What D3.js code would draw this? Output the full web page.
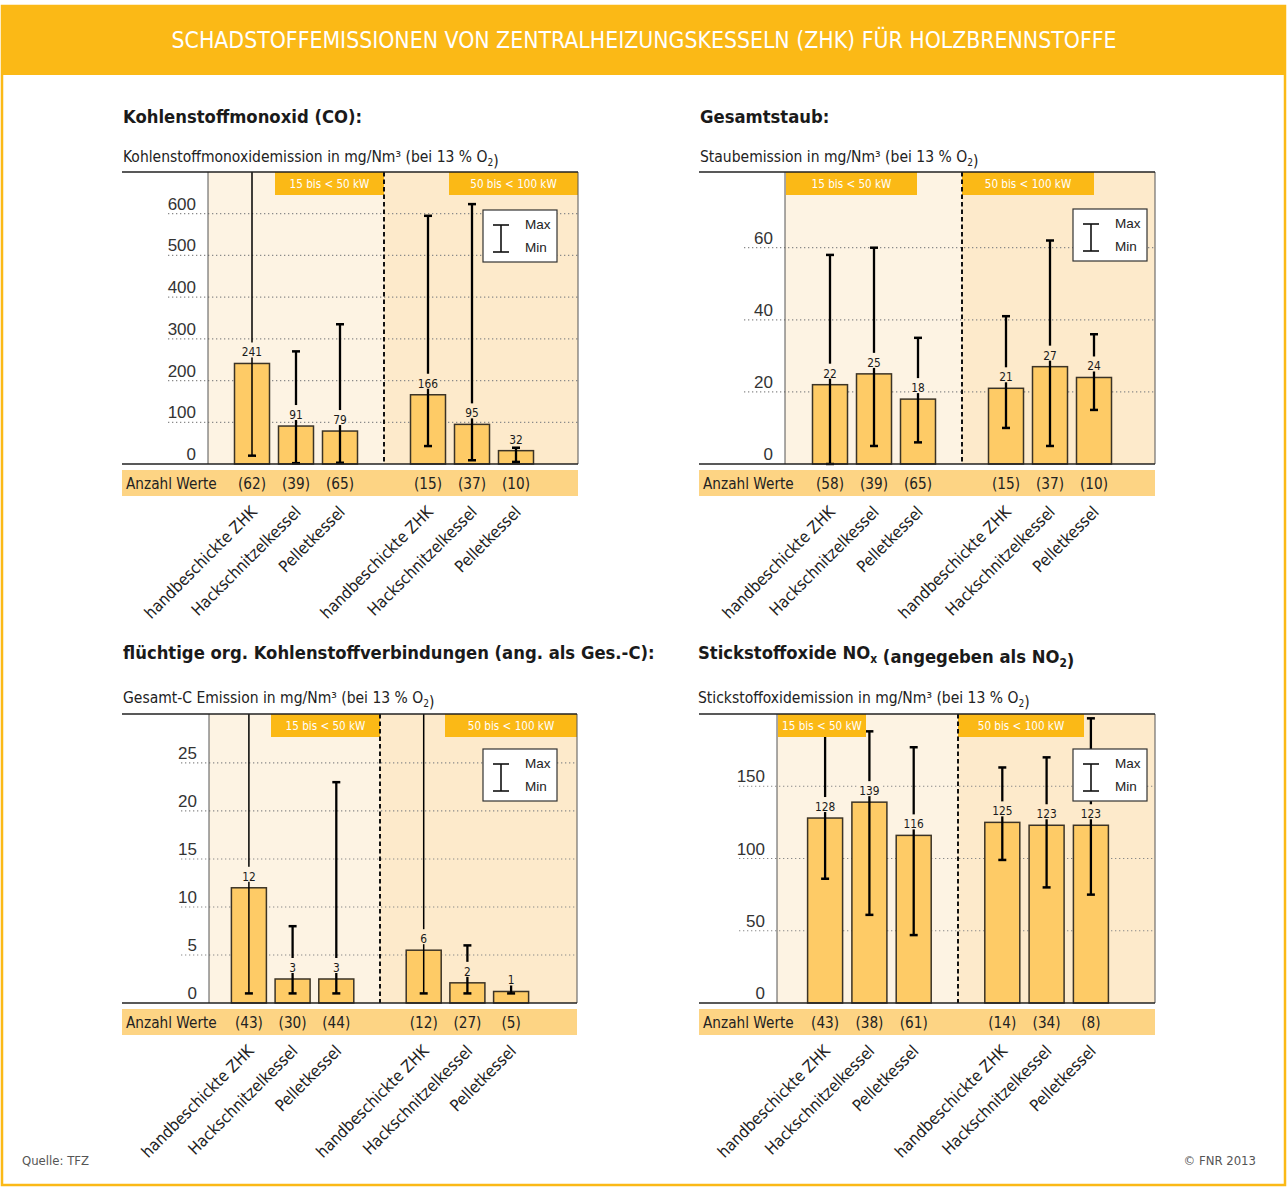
<!DOCTYPE html>
<html><head><meta charset="utf-8">
<script src="https://cdn.jsdelivr.net/npm/d3@7"></script>
<style>
body{margin:0;background:#fff}
svg{display:block}
</style></head><body><svg id="c" width="1287" height="1187"></svg>
<script>
// ---------- data ----------
const categories = ["handbeschickte ZHK","Hackschnitzelkessel","Pelletkessel"];
const powerClasses = ["15 bis < 50 kW","50 bis < 100 kW"];

const coMean  = [241, 91, 79, 166, 95, 32];
const coMin   = [20, 2, 3, 43, 9, 5];
const coMax   = [1000, 270, 335, 595, 623, 39];
const coCount = [62, 39, 65, 15, 37, 10];
const coTicks = [0, 100, 200, 300, 400, 500, 600];

const dustMean  = [22, 25, 18, 21, 27, 24];
const dustMin   = [0, 5, 6, 10, 5, 15];
const dustMax   = [58, 60, 35, 41, 62, 36];
const dustCount = [58, 39, 65, 15, 37, 10];
const dustTicks = [0, 20, 40, 60];

const cMean  = [12, 2.5, 2.5, 5.5, 2.1, 1.2];
const cMin   = [1, 1, 1, 1, 1, 1];
const cMax   = [40, 8, 23, 40, 6, 2];
const cCount = [43, 30, 44, 12, 27, 5];
const cTicks = [0, 5, 10, 15, 20, 25];

const noxMean  = [128, 139, 116, 125, 123, 123];
const noxMin   = [86, 61, 47, 99, 80, 75];
const noxMax   = [195, 188, 177, 163, 170, 197];
const noxCount = [43, 38, 61, 14, 34, 8];
const noxTicks = [0, 50, 100, 150];

// ---------- style ----------
const ORANGE="#FBB916", BAND="#FDD484", BAR="#FECB66", BARSTROKE="#3b3326",
      BG_L="#FDF3E3", BG_R="#FDEACB", INK="#1a1a1a";
const NARROW='"DejaVu Sans Condensed","DejaVu Sans",sans-serif';
const SANS='"Liberation Sans",Arial,sans-serif';

const svg=d3.select("#c");
svg.append("rect").attr("x",2).attr("y",6).attr("width",1283).attr("height",1179)
  .attr("fill","#fff").attr("stroke",ORANGE).attr("stroke-width",2.5);
svg.append("rect").attr("x",1).attr("y",6).attr("width",1285).attr("height",69).attr("fill",ORANGE);
svg.append("text").attr("x",644).attr("y",48).attr("text-anchor","middle")
  .attr("font-family",NARROW).attr("font-size",22.8).attr("fill","#fff")
  .text("SCHADSTOFFEMISSIONEN VON ZENTRALHEIZUNGSKESSELN (ZHK) FÜR HOLZBRENNSTOFFE");

function rich(sel, parts){
  parts.forEach(p=>{
    if(p.sub){
      sel.append("tspan").attr("font-size","0.65em").attr("dy",4).text(p.t);
      sel.append("tspan").attr("dy",-4).text("");
    } else sel.append("tspan").text(p.t);
  });
}

const panels=[
 {mean:coMean,min:coMin,max:coMax,count:coCount,ticks:coTicks,ymax:700,
  title:[{t:"Kohlenstoffmonoxid (CO):"}],
  sub:[{t:"Kohlenstoffmonoxidemission in mg/Nm³ (bei 13 % O"},{t:"2",sub:true},{t:")"}],
  left:122,titleX:123,plotL:208,div:384,plotR:578,slot:44,top:172,base:464,gridStart:168,
  hdr:[[275,384],[449,578]],legend:[483,210],titleY:123,subY:162},
 {mean:dustMean,min:dustMin,max:dustMax,count:dustCount,ticks:dustTicks,ymax:81,
  title:[{t:"Gesamtstaub:"}],
  sub:[{t:"Staubemission in mg/Nm³ (bei 13 % O"},{t:"2",sub:true},{t:")"}],
  left:699,titleX:700,plotL:785,div:962,plotR:1155,slot:44,top:172,base:464,gridStart:744,
  hdr:[[786,917],[962,1094]],legend:[1073,209],titleY:123,subY:162},
 {mean:cMean,min:cMin,max:cMax,count:cCount,ticks:cTicks,ymax:30.1,
  title:[{t:"flüchtige org. Kohlenstoffverbindungen (ang. als Ges.-C):"}],
  sub:[{t:"Gesamt-C Emission in mg/Nm³ (bei 13 % O"},{t:"2",sub:true},{t:")"}],
  left:122,titleX:123,plotL:209,div:380,plotR:577,slot:43.7,top:714,base:1003,gridStart:181,
  hdr:[[271,380],[445,577]],legend:[483,749],titleY:659,subY:703},
 {mean:noxMean,min:noxMin,max:noxMax,count:noxCount,ticks:noxTicks,ymax:200,
  title:[{t:"Stickstoffoxide NO"},{t:"x",sub:true},{t:" (angegeben als NO"},{t:"2",sub:true},{t:")"}],
  sub:[{t:"Stickstoffoxidemission in mg/Nm³ (bei 13 % O"},{t:"2",sub:true},{t:")"}],
  left:699,titleX:698,plotL:777,div:958,plotR:1155,slot:44.3,top:714,base:1003,gridStart:739,
  hdr:[[778,866],[958,1084]],legend:[1073,749],titleY:659,subY:703}
];

const slotIdx=[1,2,3,5,6,7];

panels.forEach(P=>{
  const g=svg.append("g");
  const y=d3.scaleLinear().domain([0,P.ymax]).range([P.base,P.top]);
  const x=d3.scaleLinear().domain([4,5]).range([P.div,P.div+P.slot]);
  const cx=i=>x(slotIdx[i]);
  const bw=35;

  // titles
  const t=g.append("text").attr("x",P.titleX).attr("y",P.titleY)
    .attr("font-family",NARROW).attr("font-weight","bold").attr("font-size",18.3).attr("fill",INK);
  rich(t,P.title);
  const s=g.append("text").attr("x",P.titleX).attr("y",P.subY)
    .attr("font-family",NARROW).attr("font-size",15.5).attr("fill","#222");
  rich(s,P.sub);

  // backgrounds
  g.append("rect").attr("x",P.plotL).attr("y",P.top).attr("width",P.div-P.plotL).attr("height",P.base-P.top).attr("fill",BG_L);
  g.append("rect").attr("x",P.div).attr("y",P.top).attr("width",P.plotR-P.div).attr("height",P.base-P.top).attr("fill",BG_R);

  // gridlines + tick labels
  P.ticks.forEach(v=>{
    if(v>0) g.append("line").attr("x1",P.gridStart).attr("x2",P.plotR).attr("y1",y(v)).attr("y2",y(v))
      .attr("stroke","#8a8a8a").attr("stroke-width",1.2).attr("stroke-dasharray","1.3,2.7");
    g.append("text").attr("x",P.plotL-12).attr("y",y(v)-4).attr("text-anchor","end")
      .attr("font-family",SANS).attr("font-size",17).attr("fill","#333").text(v);
  });

  // bars
  P.mean.forEach((m,i)=>{
    g.append("rect").attr("x",cx(i)-bw/2).attr("y",y(m)).attr("width",bw).attr("height",P.base-y(m))
      .attr("fill",BAR).attr("stroke",BARSTROKE).attr("stroke-width",1.5);
  });

  // error bars
  P.mean.forEach((m,i)=>{
    const clipped=P.max[i]>P.ymax;
    const yTop=clipped?P.top:y(P.max[i]);
    const yBot=y(P.min[i]);
    g.append("line").attr("x1",cx(i)).attr("x2",cx(i)).attr("y1",yTop).attr("y2",yBot)
      .attr("stroke","#000").attr("stroke-width",clipped?1.5:2.3);
    g.append("line").attr("x1",cx(i)-4).attr("x2",cx(i)+4).attr("y1",yBot).attr("y2",yBot)
      .attr("stroke","#000").attr("stroke-width",2.5);
    if(!clipped) g.append("line").attr("x1",cx(i)-4).attr("x2",cx(i)+4).attr("y1",yTop).attr("y2",yTop)
      .attr("stroke","#000").attr("stroke-width",2.5);
  });

  // value labels with knockout
  P.mean.forEach((m,i)=>{
    const lab=String(Math.round(m));
    const tw=lab.length*6.5+4;
    g.append("rect").attr("x",cx(i)-tw/2).attr("y",y(m)-21).attr("width",tw).attr("height",15)
      .attr("fill",i<3?BG_L:BG_R);
    g.append("text").attr("x",cx(i)).attr("y",y(m)-7).attr("text-anchor","middle")
      .attr("font-family",NARROW).attr("font-size",11.8).attr("fill",INK).text(lab);
  });

  // header boxes
  P.hdr.forEach((h,k)=>{
    g.append("rect").attr("x",h[0]).attr("y",P.top).attr("width",h[1]-h[0]).attr("height",23).attr("fill",ORANGE);
    g.append("text").attr("x",(h[0]+h[1])/2).attr("y",P.top+16).attr("text-anchor","middle")
      .attr("font-family",NARROW).attr("font-size",11.6).attr("fill","#fff").text(powerClasses[k]);
  });

  // divider
  g.append("line").attr("x1",P.div).attr("x2",P.div).attr("y1",P.top).attr("y2",P.base)
    .attr("stroke","#111").attr("stroke-width",2).attr("stroke-dasharray","4.5,3");

  // frame lines
  g.append("line").attr("x1",P.plotL).attr("x2",P.plotL).attr("y1",P.top).attr("y2",P.base).attr("stroke","#555").attr("stroke-width",1);
  g.append("line").attr("x1",P.plotR).attr("x2",P.plotR).attr("y1",P.top).attr("y2",P.base).attr("stroke","#555").attr("stroke-width",1);
  g.append("line").attr("x1",P.left).attr("x2",P.plotR).attr("y1",P.top).attr("y2",P.top).attr("stroke","#222").attr("stroke-width",1.6);
  g.append("line").attr("x1",P.left).attr("x2",P.plotR).attr("y1",P.base).attr("y2",P.base).attr("stroke","#222").attr("stroke-width",1.6);

  // legend
  const [bx,by]=P.legend;
  g.append("rect").attr("x",bx).attr("y",by).attr("width",74).attr("height",52)
    .attr("fill","#fff").attr("stroke","#333").attr("stroke-width",1.2);
  const lx=bx+18;
  g.append("line").attr("x1",lx).attr("x2",lx).attr("y1",by+15).attr("y2",by+42).attr("stroke","#111").attr("stroke-width",1.6);
  g.append("line").attr("x1",lx-8).attr("x2",lx+8).attr("y1",by+15).attr("y2",by+15).attr("stroke","#111").attr("stroke-width",1.6);
  g.append("line").attr("x1",lx-8).attr("x2",lx+8).attr("y1",by+42).attr("y2",by+42).attr("stroke","#111").attr("stroke-width",1.6);
  g.append("text").attr("x",bx+42).attr("y",by+19).attr("font-family",SANS).attr("font-size",13.5).attr("fill","#222").text("Max");
  g.append("text").attr("x",bx+42).attr("y",by+42).attr("font-family",SANS).attr("font-size",13.5).attr("fill","#222").text("Min");

  // count band
  const bandTop=P.base+6;
  g.append("rect").attr("x",P.left).attr("y",bandTop).attr("width",P.plotR-P.left).attr("height",26).attr("fill",BAND);
  g.append("text").attr("x",P.left+4).attr("y",bandTop+18.5).attr("font-family",NARROW).attr("font-size",15.2).attr("fill","#222").text("Anzahl Werte");
  P.count.forEach((c,i)=>{
    g.append("text").attr("x",cx(i)).attr("y",bandTop+18.5).attr("text-anchor","middle")
      .attr("font-family",NARROW).attr("font-size",15.2).attr("fill","#222").text("("+c+")");
  });

  // rotated category labels
  P.mean.forEach((m,i)=>{
    const ax=cx(i)+6, ay=bandTop+43;
    g.append("text").attr("transform",`translate(${ax},${ay}) rotate(-45)`).attr("text-anchor","end")
      .attr("font-family",NARROW).attr("font-size",16.3).attr("fill","#222").text(categories[i%3]);
  });
});

// footer
svg.append("text").attr("x",22).attr("y",1165).attr("font-family",NARROW).attr("font-size",13).attr("fill","#555").text("Quelle: TFZ");
svg.append("text").attr("x",1256).attr("y",1165).attr("text-anchor","end").attr("font-family",NARROW).attr("font-size",13).attr("fill","#555").text("© FNR 2013");
</script></body></html>
